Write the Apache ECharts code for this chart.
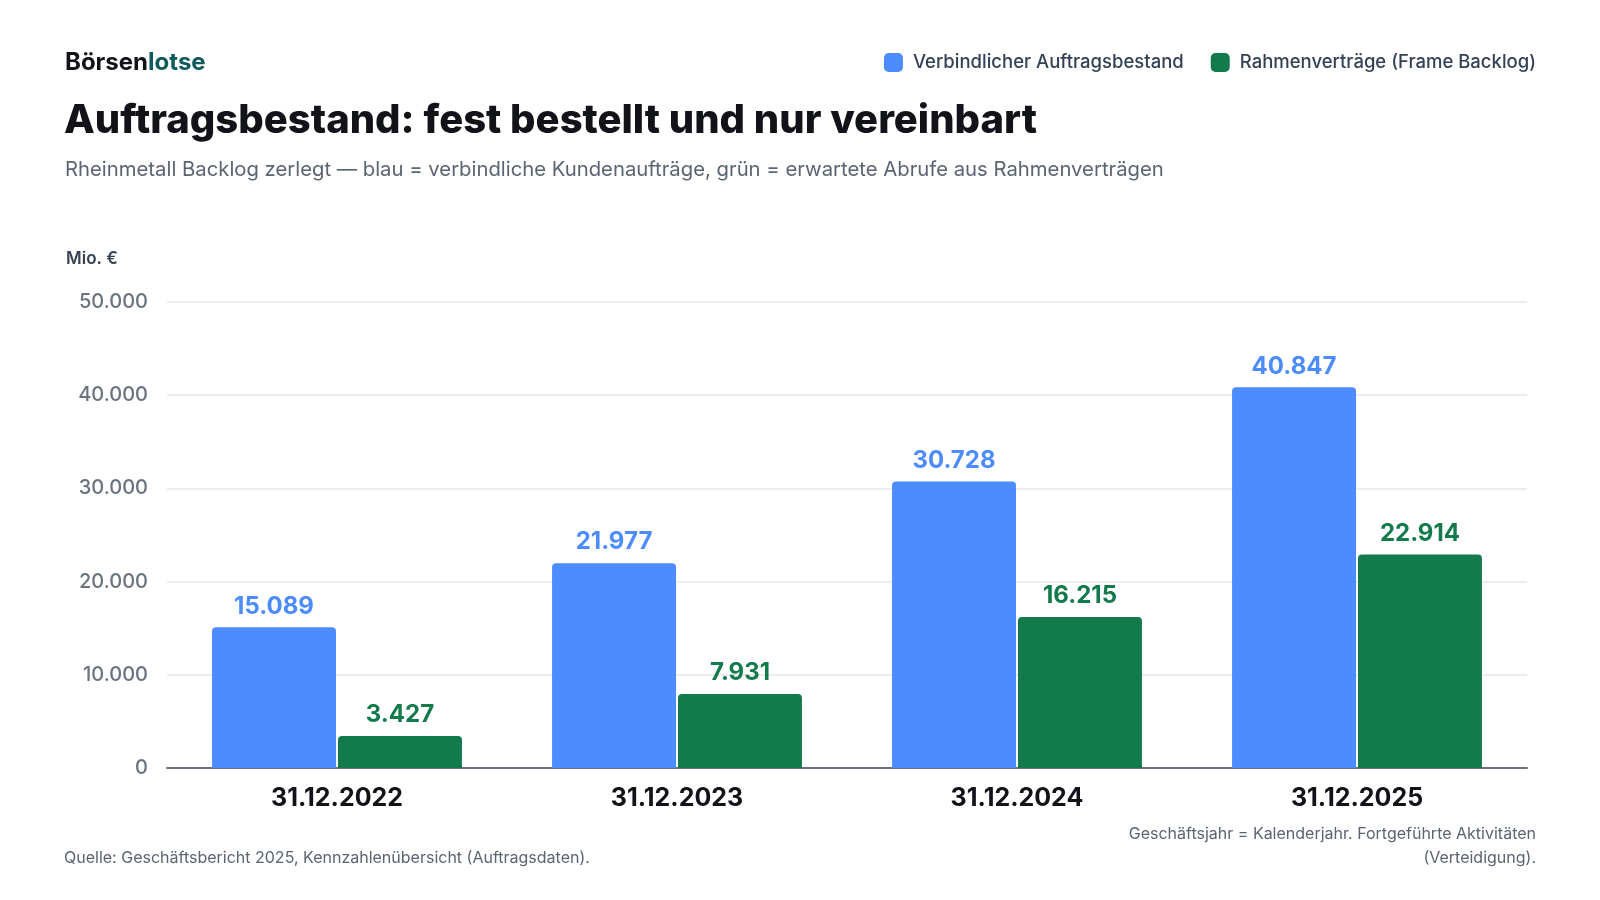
<!DOCTYPE html>
<html lang="de">
<head>
<meta charset="utf-8">
<title>Auftragsbestand Rheinmetall</title>
<script src="https://cdn.jsdelivr.net/npm/echarts@6/dist/echarts.min.js"></script>
<style>
  html, body { margin: 0; padding: 0; background: #fff; }
  #chart { width: 1600px; height: 900px; }
</style>
</head>
<body>
<div id="chart"></div>
<script>
// Daten (Mio. €)
var categories = ['31.12.2022', '31.12.2023', '31.12.2024', '31.12.2025'];
var verbindlich = [15089, 21977, 30728, 40847];
var rahmen = [3427, 7931, 16215, 22914];
var yTicks = [0, 10000, 20000, 30000, 40000, 50000];

var FONT = 'Inter, "Noto Sans", sans-serif';
var BLUE = '#4d8cff';
var GREEN = '#127a4b';
var NOTE = '#5b6472';

// 12345 -> "12.345"
function fmt(v) {
  return String(v).replace(/\B(?=(\d{3})+(?!\d))/g, '.');
}

var chart = echarts.init(document.getElementById('chart'));

var option = {
  backgroundColor: '#ffffff',
  animation: false,
  textStyle: { fontFamily: FONT },
  title: [
    {
      text: '{a|Börsen}{b|lotse}',
      left: 60, top: 46,
      textStyle: {
        rich: {
          a: { fontFamily: FONT, fontSize: 24, fontWeight: 700, color: '#111318' },
          b: { fontFamily: FONT, fontSize: 24, fontWeight: 700, color: '#0f5a5c' }
        }
      }
    },
    {
      text: 'Auftragsbestand: fest bestellt und nur vereinbart',
      left: 59, top: 96,
      textStyle: { fontFamily: FONT, fontSize: 40, fontWeight: 800, color: '#111318' }
    },
    {
      text: 'Rheinmetall Backlog zerlegt — blau = verbindliche Kundenaufträge, grün = erwartete Abrufe aus Rahmenverträgen',
      left: 60, top: 155,
      textStyle: { fontFamily: FONT, fontSize: 20.3, fontWeight: 400, color: NOTE }
    },
    {
      text: 'Mio. €',
      left: 61, top: 245,
      textStyle: { fontFamily: FONT, fontSize: 17, fontWeight: 600, color: '#374151' }
    }
  ],
  graphic: [
    {
      type: 'text', left: 64, top: 850,
      style: { text: 'Quelle: Geschäftsbericht 2025, Kennzahlenübersicht (Auftragsdaten).', font: '400 16px ' + FONT, fill: NOTE }
    },
    {
      type: 'text', x: 1536, y: 826,
      style: { text: 'Geschäftsjahr = Kalenderjahr. Fortgeführte Aktivitäten', font: '400 16px ' + FONT, fill: NOTE, align: 'right', verticalAlign: 'top' }
    },
    {
      type: 'text', x: 1536, y: 850,
      style: { text: '(Verteidigung).', font: '400 16px ' + FONT, fill: NOTE, align: 'right', verticalAlign: 'top' }
    }
  ],
  legend: {
    right: 59, top: 48,
    itemWidth: 19, itemHeight: 19, itemGap: 27,
    icon: 'roundRect',
    textStyle: { fontFamily: FONT, fontSize: 18.5, fontWeight: 500, color: '#334155', padding: [0, 0, 0, 5] },
    data: ['Verbindlicher Auftragsbestand', 'Rahmenverträge (Frame Backlog)']
  },
  grid: { left: 167, right: 73, top: 302, bottom: 132, containLabel: false },
  xAxis: {
    type: 'category',
    data: categories,
    axisLine: { show: true, lineStyle: { color: '#6b7280', width: 2 } },
    axisTick: { show: false },
    axisLabel: { fontFamily: FONT, fontSize: 25, fontWeight: 700, color: '#111318', margin: 18 }
  },
  yAxis: {
    type: 'value',
    min: yTicks[0], max: yTicks[yTicks.length - 1], interval: 10000,
    axisLine: { show: false },
    axisTick: { show: false },
    splitLine: { lineStyle: { color: '#e5e7eb', width: 1.5 } },
    axisLabel: {
      fontFamily: FONT, fontSize: 20, fontWeight: 500, color: '#6b7280', margin: 19,
      formatter: function (v) { return fmt(v); }
    }
  },
  series: [
    {
      name: 'Verbindlicher Auftragsbestand',
      type: 'bar',
      data: verbindlich,
      barGap: '1.6%',
      barCategoryGap: '26.5%',
      itemStyle: { color: BLUE, borderRadius: [4, 4, 0, 0] },
      label: {
        show: true, position: 'top', distance: 9,
        fontFamily: FONT, fontSize: 24, fontWeight: 700, color: BLUE,
        formatter: function (p) { return fmt(p.value); }
      }
    },
    {
      name: 'Rahmenverträge (Frame Backlog)',
      type: 'bar',
      data: rahmen,
      itemStyle: { color: GREEN, borderRadius: [4, 4, 0, 0] },
      label: {
        show: true, position: 'top', distance: 9,
        fontFamily: FONT, fontSize: 24, fontWeight: 700, color: GREEN,
        formatter: function (p) { return fmt(p.value); }
      }
    }
  ]
};

chart.setOption(option);
</script>
</body>
</html>
